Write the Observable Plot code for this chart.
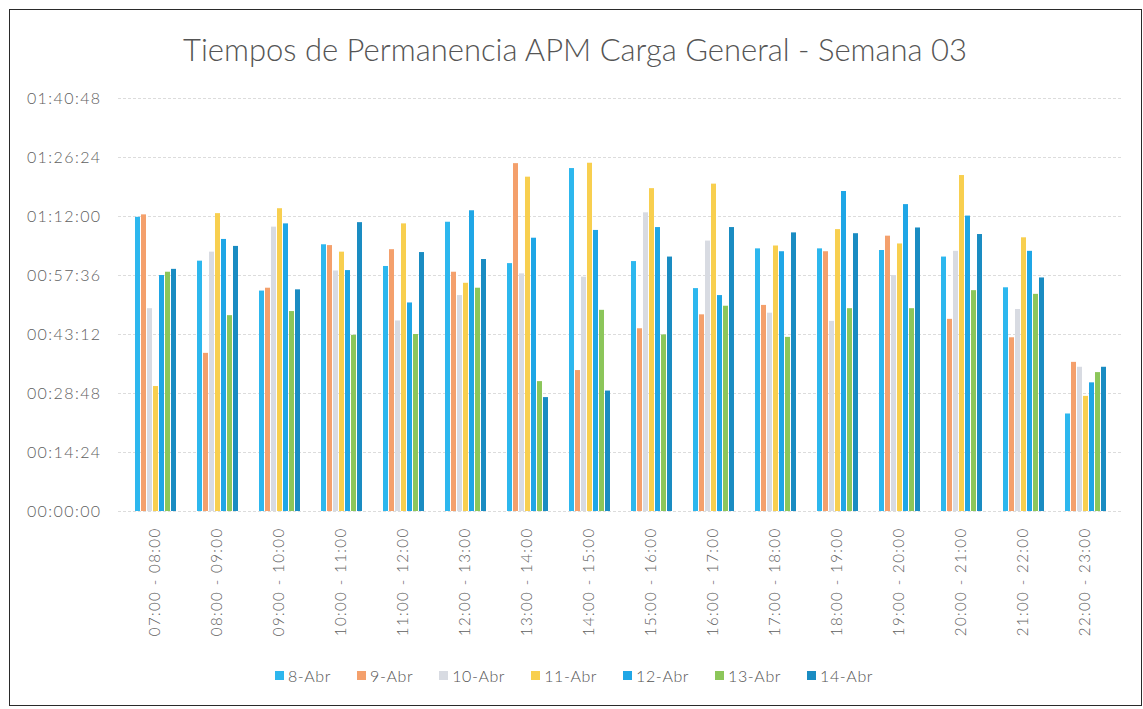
<!DOCTYPE html>
<html>
<head>
<meta charset="utf-8">
<script src="https://cdn.jsdelivr.net/npm/d3@7"></script>
<script src="https://cdn.jsdelivr.net/npm/@observablehq/plot@0.6"></script>
<style>
  html, body { margin: 0; padding: 0; background: #fff; }
  body { width: 1143px; height: 709px; position: relative; overflow: hidden; font-family: Lato, "Open Sans", sans-serif; }
  #frame { position: absolute; left: 9px; top: 9px; width: 1131px; height: 695px; border: 1.5px solid #2a2a2a; }
  #title { position: absolute; left: 0; width: 1150px; top: 30px; text-align: center; font-size: 31px; font-weight: 300; color: #555; }
  .layer { position: absolute; left: 0; top: 80px; }
  .layer svg text { font-weight: 300; }
  #legend { position: absolute; left: 0; width: 1148px; top: 666px; display: flex; justify-content: center; gap: 26px; font-size: 16px; font-weight: 300; color: #555; letter-spacing: 0.6px; }
  #legend .item { display: flex; align-items: center; gap: 4px; }
  #legend .sw { width: 9px; height: 9px; display: inline-block; }
</style>
</head>
<body>
<div id="frame"></div>
<div id="title">Tiempos de Permanencia APM Carga General - Semana 03</div>
<div id="gridLayer" class="layer"></div>
<div id="barLayer" class="layer"></div>
<div id="legend"></div>
<script>
// Time slots (categories)
const slots = ["07:00 - 08:00", "08:00 - 09:00", "09:00 - 10:00", "10:00 - 11:00",
  "11:00 - 12:00", "12:00 - 13:00", "13:00 - 14:00", "14:00 - 15:00",
  "15:00 - 16:00", "16:00 - 17:00", "17:00 - 18:00", "18:00 - 19:00",
  "19:00 - 20:00", "20:00 - 21:00", "21:00 - 22:00", "22:00 - 23:00"];
// Series names
const days = ["8-Abr", "9-Abr", "10-Abr", "11-Abr", "12-Abr", "13-Abr", "14-Abr"];
const dayColors = ["#2db7ee", "#f4a06c", "#d8dbe2", "#f8cf4f", "#1fa6e6", "#8cc65a", "#1a8cc2"];
// Values in minutes, one per slot
const abr8  = [71.8, 61.1, 53.8, 65.1, 59.8, 70.6, 60.5, 83.7, 61.0, 54.4, 64.1, 64.1, 63.7, 62.1, 54.6, 23.8];
const abr9  = [72.4, 38.6, 54.5, 64.9, 63.9, 58.4, 84.9, 34.4, 44.6, 48.0, 50.3, 63.4, 67.2, 46.9, 42.4, 36.4];
const abr10 = [49.5, 63.3, 69.4, 58.7, 46.5, 52.7, 58.0, 57.2, 72.9, 66.0, 48.4, 46.4, 57.6, 63.5, 49.3, 35.2];
const abr11 = [30.5, 72.7, 73.9, 63.3, 70.2, 55.7, 81.6, 85.0, 78.8, 79.9, 64.8, 68.8, 65.3, 82.0, 66.8, 28.1];
const abr12 = [57.6, 66.4, 70.2, 58.8, 50.9, 73.4, 66.7, 68.6, 69.3, 52.7, 63.4, 78.1, 74.9, 72.1, 63.5, 31.4];
const abr13 = [58.4, 47.8, 48.8, 43.0, 43.2, 54.5, 31.7, 49.1, 43.1, 50.1, 42.5, 49.5, 49.5, 53.9, 53.0, 33.9];
const abr14 = [59.1, 64.7, 54.1, 70.5, 63.2, 61.5, 27.8, 29.4, 62.1, 69.3, 68.0, 67.8, 69.2, 67.6, 57.0, 35.2];
// Y axis ticks in seconds
const yTicks = [0, 864, 1728, 2592, 3456, 4320, 5184, 6048];

const series = [abr8, abr9, abr10, abr11, abr12, abr13, abr14];
const data = [];
slots.forEach((s, i) => days.forEach((d, j) => data.push({slot: s, day: d, sec: series[j][i] * 60})));

const pad2 = n => String(n).padStart(2, "0");
const hms = s => pad2(Math.floor(s / 3600)) + ":" + pad2(Math.floor((s % 3600) / 60)) + ":" + pad2(Math.round(s % 60));

const W = 1143, H = 570;
const common = {width: W, height: H, marginLeft: 118, marginRight: 21, marginTop: 18, marginBottom: 139};

const gridPlot = Plot.plot({
  ...common,
  style: {fontFamily: "Lato, sans-serif", color: "#595959", background: "transparent"},
  x: {axis: null},
  y: {domain: [0, 6048], axis: null},
  marks: [
    Plot.gridY(yTicks, {stroke: "#dcdcdc", strokeOpacity: 1, strokeDasharray: "3,2"}),
    Plot.axisY(yTicks, {tickSize: 0, tickPadding: 17, tickFormat: hms, fontSize: 16, fill: "#606060"})
  ]
});
document.getElementById("gridLayer").appendChild(gridPlot);
d3.select(gridPlot).selectAll("text").style("letter-spacing", "1.4px");

const barPlot = Plot.plot({
  ...common,
  style: {fontFamily: "Lato, sans-serif", color: "#595959", background: "transparent"},
  fx: {domain: slots, paddingInner: 0.2, paddingOuter: 0.1, label: null},
  x: {domain: days, padding: 0.25, axis: null},
  y: {domain: [0, 6048], axis: null},
  color: {domain: days, range: dayColors},
  marks: [
    Plot.barY(data, {fx: "slot", x: "day", y: "sec", fill: "day"}),
    Plot.axisFx({anchor: "bottom", tickRotate: -90, tickSize: 0, tickPadding: 16, fontSize: 15, label: null, fill: "#606060"})
  ]
});
document.getElementById("barLayer").appendChild(barPlot);
d3.select(barPlot).selectAll("text").style("letter-spacing", "1.4px");

const legend = d3.select("#legend");
days.forEach((d, i) => {
  const it = legend.append("div").attr("class", "item");
  it.append("span").attr("class", "sw").style("background", dayColors[i]);
  it.append("span").text(d);
});
</script>
</body>
</html>
